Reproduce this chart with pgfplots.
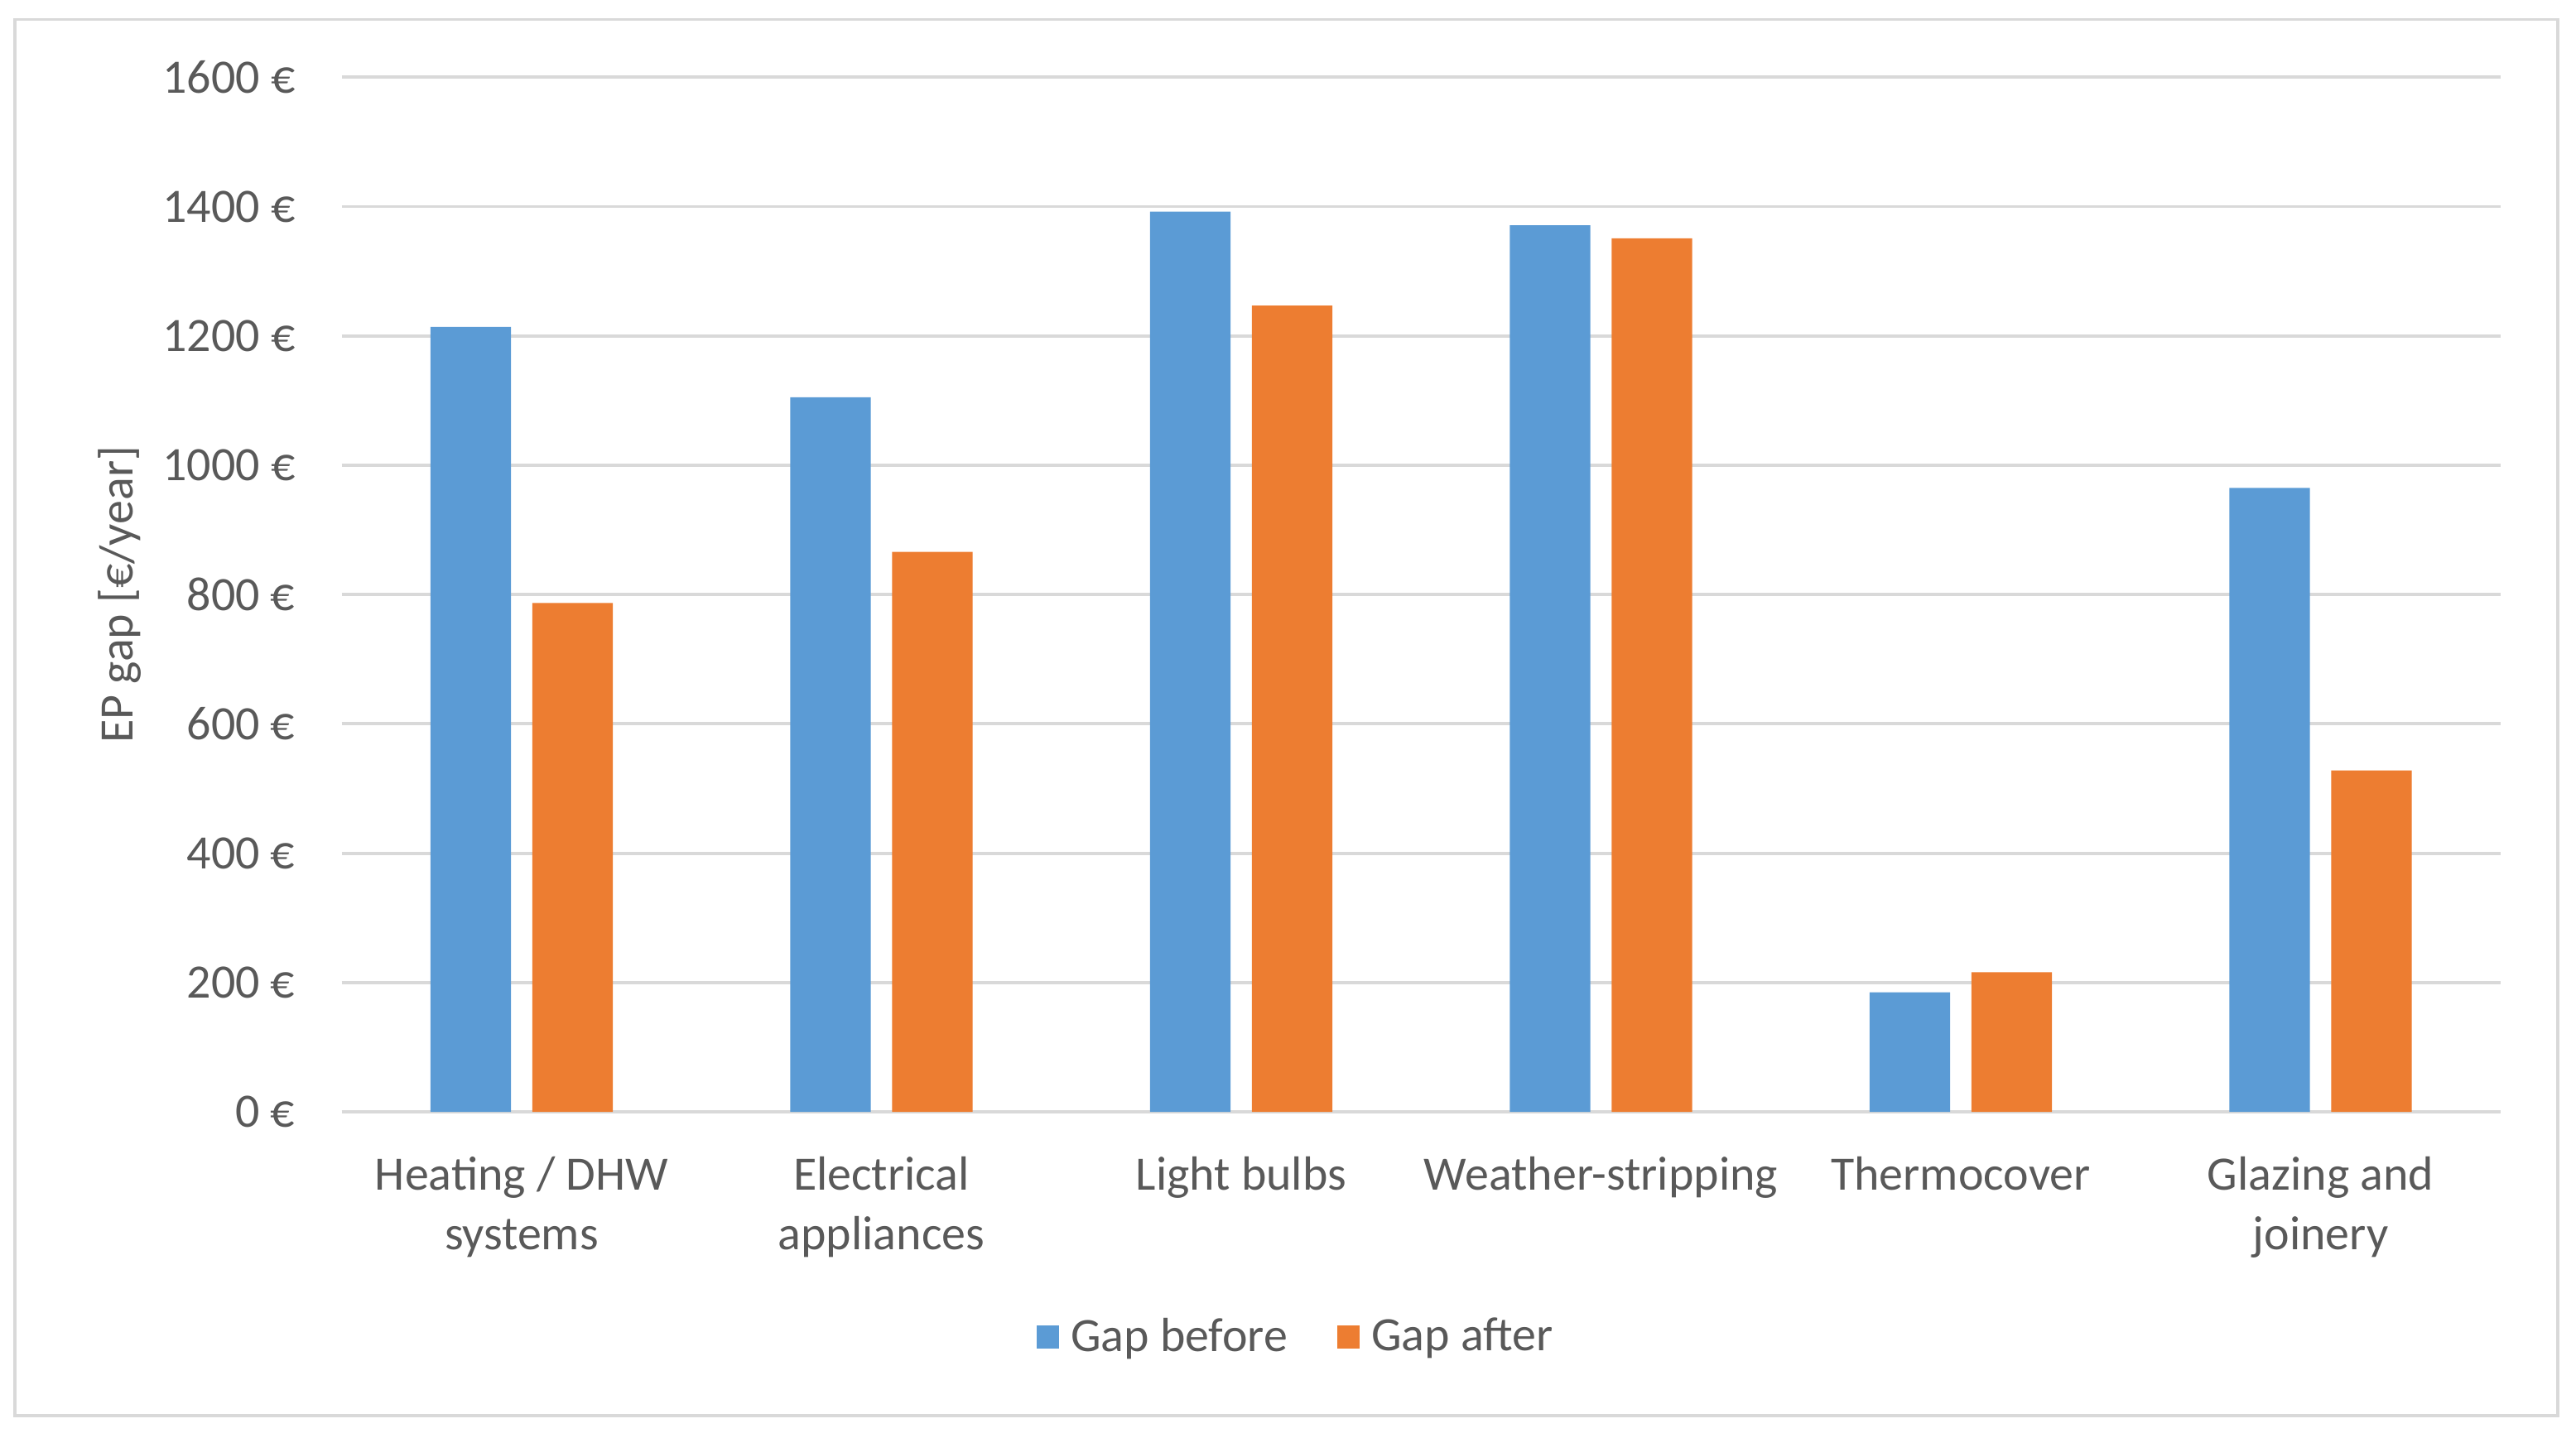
\documentclass[border=0pt]{standalone}
\usepackage{fontspec}
\setmainfont{Carlito}
\usepackage{pgfplots}
\pgfplotsset{compat=1.18}
\definecolor{cblue}{HTML}{5B9BD5}
\definecolor{corange}{HTML}{ED7D31}
\definecolor{cgrid}{HTML}{D9D9D9}
\definecolor{ctext}{HTML}{595959}
\newcommand{\lblfont}{\fontsize{14.6}{18}\selectfont}
\begin{document}
\begin{tikzpicture}
\useasboundingbox (0,0) rectangle (784pt,437.5pt);
\draw[cgrid, line width=0.9pt] (4.5pt,6.5pt) rectangle (778.5pt,431.6pt);
\begin{axis}[
  at={(104pt,99pt)}, anchor=south west,
  scale only axis, width=657pt, height=315pt,
  xmin=-0.5, xmax=5.5, ymin=0, ymax=1600,
  clip=false,
  ybar,
  axis line style={draw=none},
  major tick length=0pt,
  ymajorgrids, major grid style={cgrid, line width=1pt},
  ytick={0,200,400,600,800,1000,1200,1400,1600},
  yticklabels={0 €,200 €,400 €,600 €,800 €,1000 €,1200 €,1400 €,1600 €},
  xtick={0,1,2,3,4,5},
  xticklabels={Heating / DHW\\systems, Electrical\\appliances, Light bulbs, Weather-stripping, Thermocover, Glazing and\\joinery},
  yticklabel style={font=\lblfont, text=ctext, anchor=east, inner sep=0pt, xshift=-14pt},
  xticklabel style={font=\lblfont, text=ctext, anchor=north, inner sep=0pt, yshift=-13.5pt, align=center},
  legend columns=2,
  legend style={at={(axis description cs:0.443,-0.2175)}, anchor=center, draw=none, fill=none,
    font=\lblfont, text=ctext,
    /tikz/every odd column/.append style={column sep=1.5pt},
    /tikz/every even column/.append style={column sep=13pt}},
  legend image code/.code={\fill[#1] (0pt,-3.5pt) rectangle (7pt,3.5pt);},
]
\addplot[fill=cblue, draw=none, bar width=0.2237, bar shift=-0.1416] coordinates {
  (0,1214) (1,1105) (2,1392) (3,1371) (4,185) (5,965)};
\addplot[fill=corange, draw=none, bar width=0.2237, bar shift=0.1416] coordinates {
  (0,787) (1,866) (2,1247) (3,1351) (4,216) (5,528)};
\legend{Gap before, Gap after}
\node[rotate=90, font=\lblfont, text=ctext, anchor=center] at (axis description cs:-0.1027,0.5) {EP gap [€/year]};
\end{axis}
\end{tikzpicture}
\end{document}
